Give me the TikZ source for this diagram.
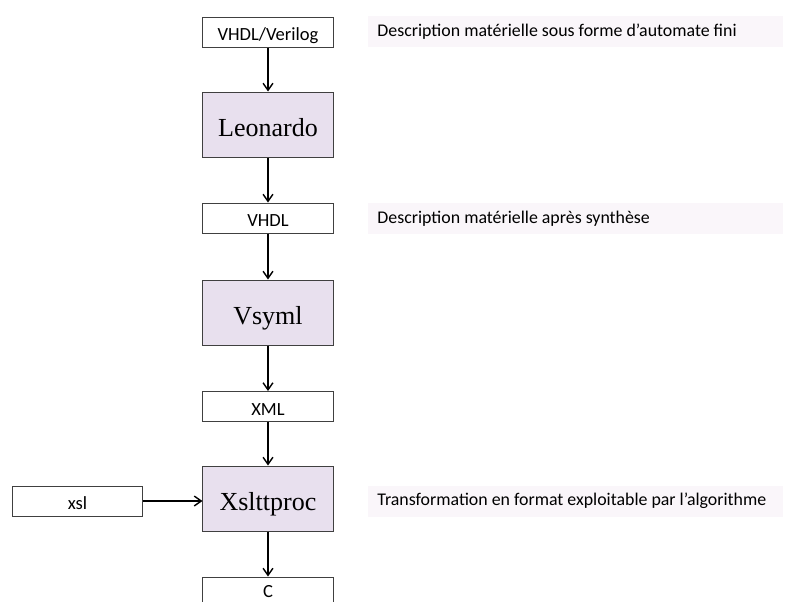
\documentclass[tikz,border=0pt]{standalone}
\usepackage{fontspec}
\setmainfont{Carlito}
\newfontfamily\toolfont{Liberation Serif}
\usetikzlibrary{arrows.meta, positioning}
\definecolor{toolfill}{RGB}{232,224,238}
\definecolor{notefill}{RGB}{250,246,250}
\newcommand{\notetext}[1]{\makebox[9.9cm][l]{#1}}
\tikzset{
  filebox/.style={draw=black!75, line width=0.7pt, fill=white,
    minimum width=3.25cm, minimum height=0.75cm, inner sep=0pt,
    text height=12.5pt, text depth=0pt, font=\fontsize{13.2}{15}\selectfont},
  toolbox/.style={filebox, fill=toolfill, minimum height=1.625cm,
    text height=17pt, text depth=0pt, font=\toolfont\fontsize{18.5}{22}\selectfont},
  notebox/.style={fill=notefill, minimum width=10.375cm, minimum height=0.775cm,
    inner sep=0pt, font=\fontsize{12.7}{15}\selectfont},
  flow/.style={-{Straight Barb[length=5pt, width=7pt]}, line width=1pt},
}
\begin{document}
\begin{tikzpicture}[x=0.025cm, y=-0.025cm]
  \useasboundingbox (0,0) rectangle (786,601);
  \clip (0,0) rectangle (786,601);
  % chain of tools and files
  \node[filebox] (src)  at (268,32)    {VHDL/Verilog};
  \node[toolbox] (leo)  at (268,124.5) {Leonardo};
  \node[filebox] (vhdl) at (268,218)   {VHDL};
  \node[toolbox] (vsym) at (268,312.5) {Vsyml};
  \node[filebox] (xml)  at (268,406.5) {XML};
  \node[toolbox] (xslt) at (268,498.5) {Xslttproc};
  \node[filebox, text depth=5pt] (c) at (268,592) {C};
  \node[filebox] (xsl)  at (77.5,501)  {xsl};
  % notes
  \node[notebox] (n1) at (575.5,31.5)  {\notetext{Description matérielle sous forme d’automate fini}};
  \node[notebox] (n2) at (575.5,218.5) {\notetext{Description matérielle après synthèse}};
  \node[notebox] (n3) at (575.5,501)   {\notetext{Transformation en format exploitable par l’algorithme}};
  % arrows
  \draw[flow] (src) -- (leo);
  \draw[flow] (leo) -- (vhdl);
  \draw[flow] (vhdl) -- (vsym);
  \draw[flow] (vsym) -- (xml);
  \draw[flow] (xml) -- (xslt);
  \draw[flow] (xslt) -- (c);
  \draw[flow] (xsl) -- (xsl -| xslt.west);
\end{tikzpicture}
\end{document}
